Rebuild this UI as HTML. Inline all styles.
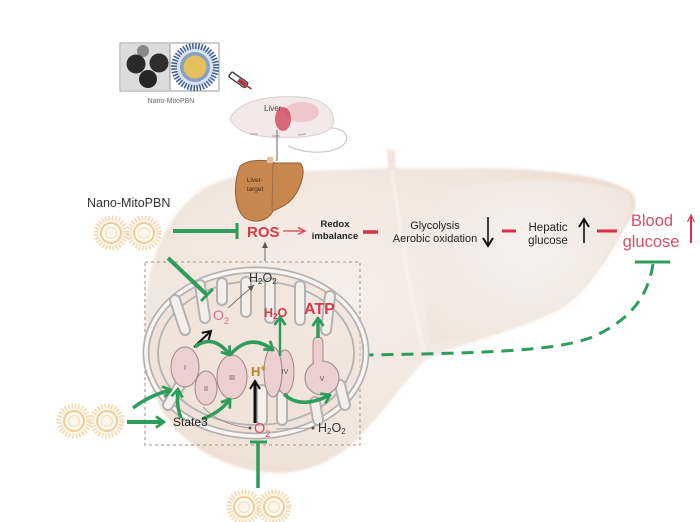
<!DOCTYPE html>
<html><head><meta charset="utf-8"><style>
html,body{margin:0;padding:0;background:#fff;}
svg{display:block;}
text{font-family:"Liberation Sans",sans-serif;}
</style></head><body>
<svg width="700" height="522" viewBox="0 0 700 522" xmlns="http://www.w3.org/2000/svg">
<defs>
<radialGradient id="lv" cx="40%" cy="45%" r="65%">
<stop offset="0" stop-color="#f6eee8"/><stop offset="0.7" stop-color="#f1e5dc"/><stop offset="1" stop-color="#ecdcd0"/>
</radialGradient>
<radialGradient id="lv2" cx="50%" cy="40%" r="70%">
<stop offset="0" stop-color="#f8f2ee"/><stop offset="1" stop-color="#f0e5dd"/>
</radialGradient>
<filter id="soft" x="-5%" y="-5%" width="110%" height="110%"><feGaussianBlur stdDeviation="1.2"/></filter>
<marker id="ga" markerUnits="userSpaceOnUse" markerWidth="14" markerHeight="14" refX="10" refY="7" orient="auto">
<path d="M2,1.5 L10,7 L2,12.5" fill="none" stroke="#2e9c5c" stroke-width="2.8" stroke-linejoin="round"/></marker>
<marker id="ba" markerUnits="userSpaceOnUse" markerWidth="12" markerHeight="12" refX="9" refY="6" orient="auto">
<path d="M1,1 L9,6 L1,11" fill="none" stroke="#111" stroke-width="2"/></marker>
<marker id="bs" markerUnits="userSpaceOnUse" markerWidth="8" markerHeight="8" refX="6" refY="4" orient="auto">
<path d="M0,1 L6,4 L0,7 Z" fill="#555"/></marker>
<marker id="ra" markerUnits="userSpaceOnUse" markerWidth="10" markerHeight="10" refX="8" refY="5" orient="auto">
<path d="M1,1.5 L8,5 L1,8.5" fill="none" stroke="#d8405a" stroke-width="1.3"/></marker>
<g id="np">
<circle r="15" fill="#fef8ef" stroke="#f4dab2" stroke-width="5" stroke-dasharray="1.6 1.8"/>
<circle r="10" fill="#fffaf2" stroke="#eecb95" stroke-width="2"/>
<circle r="5.5" fill="#fdf5e8" stroke="#f3dbb5" stroke-width="1"/>
</g>
</defs>

<!-- big liver -->
<path d="M197 193 C215 180 240 173 280 172 L388 168 L387 149 L395 150 L396 168 L500 168 C560 171 605 176 628 190 C640 198 636 210 628 222 C606 262 586 293 560 309 C520 330 462 344 428 358 C405 378 380 420 345 450 C320 468 292 476 262 472 C220 466 182 445 162 410 C146 380 142 332 147 290 C152 250 170 215 197 193 Z" fill="url(#lv)" filter="url(#soft)"/>
<path d="M447 190 C500 178 578 176 624 191 C638 199 632 214 620 232 C602 264 586 292 560 307 C522 327 472 339 432 345 C420 300 421 232 447 190 Z" fill="url(#lv2)" opacity="0.9" filter="url(#soft)"/>
<path d="M392 170 C400 230 410 300 425 356" fill="none" stroke="#f8f1ec" stroke-width="4" opacity="0.6"/>

<!-- nano image -->
<rect x="120" y="43" width="99" height="48" fill="#fff" stroke="#999" stroke-width="1"/>
<rect x="121" y="44" width="49" height="46" fill="#dcdcdc"/>
<circle cx="143" cy="51" r="6" fill="#888"/>
<circle cx="136" cy="64" r="9.5" fill="#2a2a2a"/>
<circle cx="159" cy="63" r="9.5" fill="#2e2e2e"/>
<circle cx="148" cy="79" r="9" fill="#262626"/>
<line x1="170" y1="44" x2="170" y2="90" stroke="#999"/>
<circle cx="195" cy="67" r="21" fill="#d9e2ef" stroke="#3f5f92" stroke-width="6" stroke-dasharray="1.5 1.5"/>
<circle cx="195" cy="67" r="15" fill="#8aa0c0"/>
<circle cx="195" cy="67" r="11.5" fill="#e3bf5e"/>
<text x="171" y="103" font-size="7" fill="#666" text-anchor="middle" font-family="Liberation Serif,serif">Nano-MitoPBN</text>
<!-- syringe -->
<g transform="translate(240,81) rotate(35)">
<rect x="-12" y="-3" width="20" height="6" rx="1.5" fill="#fff" stroke="#444" stroke-width="1.5"/>
<rect x="-2" y="-2" width="9" height="4" fill="#b0303a"/>
<line x1="8" y1="0" x2="14" y2="0" stroke="#a02030" stroke-width="1.5"/>
</g>

<!-- mouse -->
<path d="M325 128 C352 126 354 146 330 151 C315 154 298 151 288 146" fill="none" stroke="#cccccc" stroke-width="1.3"/>
<path d="M230 118 C240 100 270 95 300 97 C325 99 336 111 333 124 C330 136 300 139 270 137 C250 136 234 130 230 118 Z" fill="#f5e8e8" stroke="#d8d0d0" stroke-width="1"/>
<ellipse cx="302" cy="112" rx="17" ry="10" fill="#eab0b4" opacity="0.6"/>
<ellipse cx="283" cy="119" rx="8" ry="12" fill="#cf3c55" opacity="0.75"/>
<text x="264" y="111" font-size="8" fill="#444" font-family="Liberation Serif,serif">Liver</text>
<path d="M250 134 L258 134 M272 136 L280 136 M298 135 L306 134" stroke="#bbb" stroke-width="1.5"/>
<line x1="277" y1="130" x2="277" y2="161" stroke="#888" stroke-width="1.3"/>

<!-- small liver -->
<path d="M240 166 C250 158 268 160 275 163 L300 163 C306 168 303 185 293 198 C286 206 279 208 273 211 C268 221 255 224 245 218 C235 210 232 186 240 166 Z" fill="#c8874e" stroke="#93603a" stroke-width="1"/>
<path d="M273 163 L272 210" stroke="#9a6640" stroke-width="0.8" fill="none"/>
<rect x="267" y="157" width="6" height="6" fill="#e6c0a0"/>
<text x="255" y="182" font-size="6.5" fill="#4a2a10" text-anchor="middle">Liver-</text>
<text x="255" y="191" font-size="6.5" fill="#4a2a10" text-anchor="middle">target</text>

<!-- Nano label & particles -->
<text x="87" y="207" font-size="12.5" fill="#333">Nano-MitoPBN</text>
<use href="#np" x="111" y="233"/><use href="#np" x="144" y="233"/>
<use href="#np" x="74" y="421"/><use href="#np" x="107" y="421"/>
<use href="#np" x="244" y="507"/><use href="#np" x="274" y="507"/>

<!-- top pathway -->
<line x1="173" y1="231" x2="236" y2="231" stroke="#2e9c5c" stroke-width="4"/>
<line x1="237" y1="223" x2="237" y2="239" stroke="#2e9c5c" stroke-width="3"/>
<text x="247" y="237" font-size="15" font-weight="bold" fill="#d8384f">ROS</text>
<line x1="283" y1="231" x2="305" y2="231" stroke="#d8405a" stroke-width="1.2" marker-end="url(#ra)"/>
<text x="335" y="227" font-size="9.5" font-weight="bold" fill="#222" text-anchor="middle">Redox</text>
<text x="335" y="239" font-size="9.5" font-weight="bold" fill="#222" text-anchor="middle">imbalance</text>
<line x1="363" y1="232" x2="378" y2="232" stroke="#d8304a" stroke-width="3.5"/>
<text x="435" y="229" font-size="11" fill="#222" text-anchor="middle">Glycolysis</text>
<text x="435" y="242" font-size="11" fill="#222" text-anchor="middle">Aerobic oxidation</text>
<line x1="488" y1="217" x2="488" y2="246" stroke="#111" stroke-width="1.6" marker-end="url(#ba)"/>
<line x1="502" y1="231" x2="516" y2="231" stroke="#d8304a" stroke-width="3"/>
<text x="548" y="231" font-size="11.5" fill="#222" text-anchor="middle">Hepatic</text>
<text x="548" y="244" font-size="11.5" fill="#222" text-anchor="middle">glucose</text>
<line x1="584" y1="243" x2="584" y2="219" stroke="#111" stroke-width="1.6" marker-end="url(#ba)"/>
<line x1="597" y1="231" x2="617" y2="231" stroke="#d8304a" stroke-width="3"/>
<text x="652" y="226" font-size="16.5" fill="#d4506a" text-anchor="middle">Blood</text>
<text x="651" y="247" font-size="16.5" fill="#d4506a" text-anchor="middle">glucose</text>
<line x1="691" y1="243" x2="691" y2="215" stroke="#d8304a" stroke-width="2" marker-end="url(#ra)"/>
<line x1="635" y1="262" x2="670" y2="262" stroke="#2e9c5c" stroke-width="3"/>
<path d="M653 264 C648 298 628 322 590 338 C555 350 500 353 365 355" fill="none" stroke="#2e9c5c" stroke-width="3" stroke-dasharray="12 8"/>

<!-- up arrow to ROS -->
<line x1="265" y1="261" x2="265" y2="242" stroke="#666" stroke-width="1" marker-end="url(#bs)"/>

<!-- dashed box -->
<rect x="145" y="262" width="215" height="183" fill="none" stroke="#b9a396" stroke-width="1.3" stroke-dasharray="3 3"/>

<!-- mitochondrion -->
<ellipse cx="256" cy="353" rx="110" ry="83" fill="#efe0d6" opacity="0.5"/>
<ellipse cx="256" cy="353" rx="110" ry="83" fill="none" stroke="#b3b3b3" stroke-width="7"/>
<ellipse cx="256" cy="353" rx="110" ry="83" fill="none" stroke="#faf5f1" stroke-width="3.5"/>
<ellipse cx="256" cy="353" rx="98" ry="72" fill="none" stroke="#b3b3b3" stroke-width="1.8"/>
<g fill="none" stroke-linecap="round">
<g stroke="#b3b3b3" stroke-width="12">
<path d="M175 300 L185 330"/><path d="M200 285 L205 318"/><path d="M222 283 L222 300"/><path d="M246 282 L246 312"/>
<path d="M270 283 L270 318"/><path d="M300 286 L300 320"/><path d="M330 296 L326 330"/>
<path d="M168 405 L180 385"/><path d="M262 420 L262 390"/><path d="M282 420 L282 395"/><path d="M345 405 L340 385"/><path d="M318 420 L315 402"/>
</g>
<g stroke="#f6eee9" stroke-width="8">
<path d="M175 300 L185 330"/><path d="M200 285 L205 318"/><path d="M222 283 L222 300"/><path d="M246 282 L246 312"/>
<path d="M270 283 L270 318"/><path d="M300 286 L300 320"/><path d="M330 296 L326 330"/>
<path d="M168 405 L180 385"/><path d="M262 420 L262 390"/><path d="M282 420 L282 395"/><path d="M345 405 L340 385"/><path d="M318 420 L315 402"/>
</g>
</g>

<!-- inhibitor to O2 -->
<line x1="168" y1="258" x2="206" y2="294" stroke="#2e9c5c" stroke-width="4"/>
<line x1="201" y1="301" x2="213" y2="289" stroke="#2e9c5c" stroke-width="3"/>

<!-- upper O2 and H2O2 -->
<text x="213" y="320" font-size="14" fill="#d87090">O<tspan font-size="9" dy="4">2</tspan></text>
<text x="249" y="282" font-size="12.5" fill="#333">H<tspan font-size="8" dy="2">2</tspan><tspan dy="-2">O</tspan><tspan font-size="8" dy="2">2</tspan></text>
<line x1="228" y1="308" x2="254" y2="285" stroke="#777" stroke-width="0.9" marker-end="url(#bs)"/>
<text x="264" y="317" font-size="12.5" font-weight="bold" fill="#d8384f">H<tspan font-size="8" dy="2">2</tspan><tspan dy="-2">O</tspan></text>
<text x="304" y="314" font-size="16" font-weight="bold" fill="#d8384f">ATP</text>

<!-- complexes -->
<g fill="#ecd0cf" stroke="#9a8888" stroke-width="1">
<ellipse cx="185" cy="367" rx="14" ry="20"/>
<ellipse cx="206" cy="388" rx="11" ry="17"/>
<ellipse cx="232" cy="377" rx="15" ry="22"/>
<ellipse cx="285" cy="372" rx="9" ry="22"/>
<ellipse cx="273" cy="372" rx="9" ry="25"/>
<path d="M313 362 L313 344 Q313 337 318 337 Q323 337 323 344 L323 362 Z"/>
<circle cx="322" cy="378" r="17"/>
</g>
<rect x="314" y="358" width="8" height="6" fill="#ecd0cf"/>
<g font-size="7" fill="#555" text-anchor="middle" font-family="Liberation Serif,serif">
<text x="185" y="370">I</text><text x="206" y="391">II</text><text x="232" y="380">III</text><text x="285" y="374">IV</text><text x="322" y="381">V</text>
</g>
<text x="251" y="376" font-size="13" font-weight="bold" fill="#b8802a">H<tspan font-size="9" dy="-5">+</tspan></text>

<!-- arrows inside -->
<line x1="194" y1="347" x2="211" y2="331" stroke="#111" stroke-width="2" marker-end="url(#ba)"/>
<path d="M195 347 Q213 333 230 355" fill="none" stroke="#2e9c5c" stroke-width="3.5" marker-end="url(#ga)"/>
<path d="M230 355 Q250 332 273 350" fill="none" stroke="#2e9c5c" stroke-width="3.5" marker-end="url(#ga)"/>
<line x1="280" y1="356" x2="280" y2="317" stroke="#2e9c5c" stroke-width="2.5" marker-end="url(#ga)"/>
<line x1="318" y1="338" x2="318" y2="318" stroke="#2e9c5c" stroke-width="3.5" marker-end="url(#ga)"/>
<line x1="255" y1="423" x2="255" y2="381" stroke="#111" stroke-width="3" marker-end="url(#ba)"/>
<path d="M284 394 Q300 410 330 395" fill="none" stroke="#2e9c5c" stroke-width="3.5" marker-end="url(#ga)"/>
<path d="M133 408 Q150 395 171 390" fill="none" stroke="#2e9c5c" stroke-width="3.5" marker-end="url(#ga)"/>
<path d="M181 418 Q176 405 178 389" fill="none" stroke="#2e9c5c" stroke-width="3.5" marker-end="url(#ga)"/>
<path d="M202 419 Q220 413 230 399" fill="none" stroke="#2e9c5c" stroke-width="3.5" marker-end="url(#ga)"/>
<line x1="127" y1="422" x2="164" y2="422" stroke="#2e9c5c" stroke-width="4" marker-end="url(#ga)"/>
<text x="173" y="426" font-size="12" fill="#222">State3</text>
<path d="M203 407 Q220 425 250 428" fill="none" stroke="#888" stroke-width="0.8"/>
<circle cx="250" cy="428" r="1.5" fill="#555"/>
<text x="254" y="433" font-size="14.5" fill="#d8506a">O<tspan font-size="9" dy="4">2</tspan></text>
<line x1="276" y1="429" x2="312" y2="428" stroke="#999" stroke-width="0.8"/>
<circle cx="313" cy="428" r="1.5" fill="#555"/>
<text x="318" y="432" font-size="12.5" fill="#333">H<tspan font-size="8" dy="2">2</tspan><tspan dy="-2">O</tspan><tspan font-size="8" dy="2">2</tspan></text>

<!-- bottom inhibitor -->
<line x1="258" y1="488" x2="258" y2="443" stroke="#2e9c5c" stroke-width="3.5"/>
<line x1="250" y1="442" x2="267" y2="442" stroke="#2e9c5c" stroke-width="3"/>
</svg>
</body></html>
